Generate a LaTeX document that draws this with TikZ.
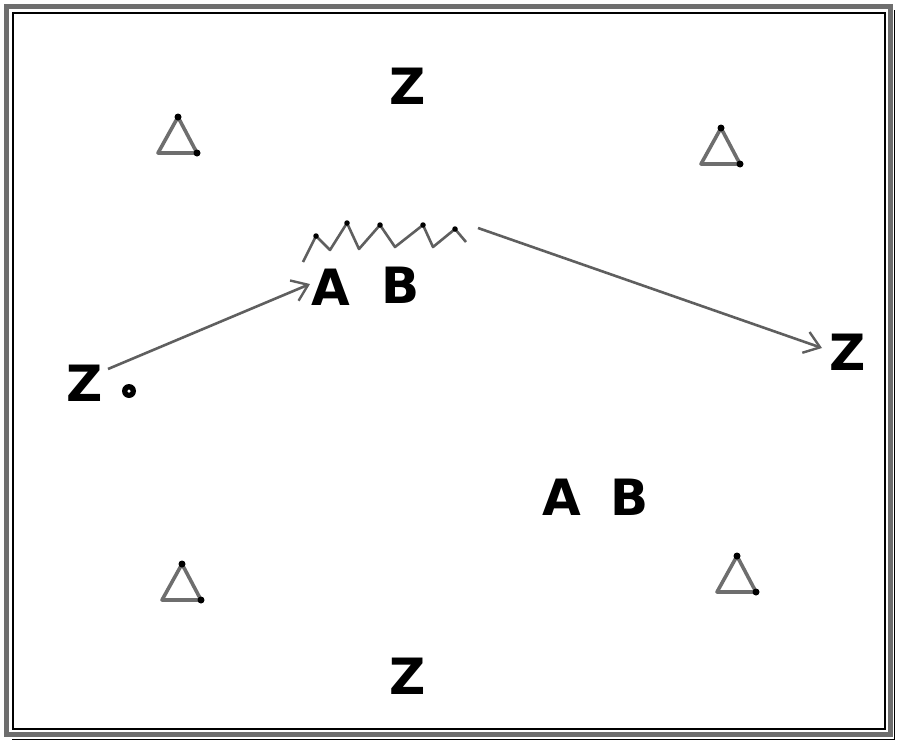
\documentclass[tikz,border=0pt]{standalone}
\usepackage{fontspec}
\setmainfont{DejaVu Sans}
\usetikzlibrary{arrows.meta}
\definecolor{lgray}{RGB}{95,95,95}
\definecolor{tgray}{RGB}{110,110,110}
\tikzset{
  letter/.style={font=\fontsize{50}{50}\selectfont\bfseries, inner sep=0pt, text=black},
  tri/.style={draw=tgray, line width=3.6pt, line join=round},
  corner/.style={circle, fill=black, inner sep=0pt, minimum size=7pt},
  arr/.style={draw=lgray, line width=2.6pt, -{Straight Barb[length=15pt,width=22pt,line width=2.4pt]}},
  zig/.style={draw=lgray, line width=2.6pt, line join=round},
}
\begin{document}
\begin{tikzpicture}[x=1pt,y=-1pt]
\useasboundingbox (0,0) rectangle (900,744);
% frame
\draw[tgray, line width=5pt] (6,6) rectangle (890,734);
\draw[black, line width=1.6pt] (13,13) rectangle (885,729);
\draw[black, line width=1pt] (894,10) -- (894,739) -- (12,739);
% letters
\node[letter] (ztop) at (408,86) {Z};
\node[letter] (zbot) at (408,676) {Z};
\node[letter] (zleft) at (85,383) {Z};
\node[letter] (zright) at (848,352) {Z};
\node[letter] (a1) at (331,287) {A};
\node[letter] (b1) at (401,285) {B};
\node[letter] (a2) at (562,497) {A};
\node[letter] (b2) at (630,497) {B};
% small ring
\node[circle, fill=black, inner sep=0pt, minimum size=14pt] (ring) at (129,391) {};
\node[circle, fill=white, inner sep=0pt, minimum size=3.5pt] at (ring) {};
% triangles
\foreach \n/\x/\y in {t1/178/117, t2/721/128, t3/182/564, t4/737/556}{
  \coordinate (\n a) at (\x,\y);
  \coordinate (\n b) at (\x+19,\y+36);
  \coordinate (\n c) at (\x-20,\y+36);
  \draw[tri] (\n a) -- (\n b) -- (\n c) -- cycle;
  \node[corner] at (\n a) {};
  \node[corner] at (\n b) {};
}
% zigzag
\coordinate (z0) at (303,262);
\coordinate (z1) at (316,236);
\coordinate (z2) at (330,250);
\coordinate (z3) at (347,223);
\coordinate (z4) at (359,249);
\coordinate (z5) at (380,225);
\coordinate (z6) at (395,247);
\coordinate (z7) at (423,225);
\coordinate (z8) at (433,247);
\coordinate (z9) at (455,229);
\coordinate (z10) at (466,242);
\draw[zig] (z0) -- (z1) -- (z2) -- (z3) -- (z4) -- (z5) -- (z6) -- (z7) -- (z8) -- (z9) -- (z10);
\foreach \p in {z1,z3,z5,z7,z9}{\node[corner, minimum size=5.5pt] at (\p) {};}
% arrows
\coordinate (s1) at (108,369);
\coordinate (e1) at (310,284);
\draw[arr] (s1) -- (e1);
\coordinate (s2) at (478,228);
\coordinate (e2) at (822,348);
\draw[arr] (s2) -- (e2);
\end{tikzpicture}
\end{document}
